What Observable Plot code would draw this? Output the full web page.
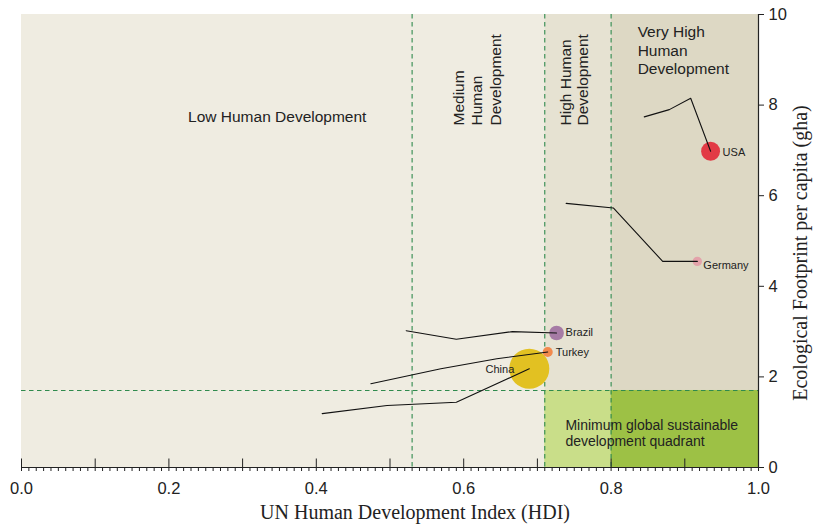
<!DOCTYPE html>
<html>
<head>
<meta charset="utf-8">
<script src="https://cdn.jsdelivr.net/npm/d3@7"></script>
<script src="https://cdn.jsdelivr.net/npm/@observablehq/plot@0.6"></script>
<style>
  body { margin: 0; background: #fff; }
  #chart svg { display: block; }
</style>
</head>
<body>
<div id="chart"></div>
<script>
// ---------- data ----------
const countries  = ["USA", "Germany", "Brazil", "Turkey", "China"];
const hdi        = [0.935, 0.917, 0.726, 0.714, 0.689];
const footprint  = [6.98, 4.55, 2.97, 2.55, 2.18];
const population = [300, 72, 180, 85, 1340];

const usaTrailHdi     = [0.845, 0.879, 0.908, 0.935];
const usaTrailFp      = [7.74, 7.90, 8.15, 6.98];
const germanyTrailHdi = [0.739, 0.803, 0.870, 0.917];
const germanyTrailFp  = [5.83, 5.73, 4.55, 4.55];
const brazilTrailHdi  = [0.522, 0.590, 0.666, 0.726];
const brazilTrailFp   = [3.02, 2.83, 3.00, 2.97];
const turkeyTrailHdi  = [0.474, 0.569, 0.645, 0.714];
const turkeyTrailFp   = [1.85, 2.18, 2.40, 2.55];
const chinaTrailHdi   = [0.408, 0.496, 0.590, 0.689];
const chinaTrailFp    = [1.19, 1.37, 1.44, 2.18];

const hdiThresholds = [0.53, 0.71, 0.80];
const biocapacity   = 1.7;
const xTicks = [0, 0.1, 0.2, 0.3, 0.4, 0.5, 0.6, 0.7, 0.8, 0.9, 1.0];
const xTickLabels = [0.0, 0.2, 0.4, 0.6, 0.8, 1.0];
const yTicks = [0, 2, 4, 6, 8, 10];

const regionNames  = ["Low Human Development", "Medium\nHuman\nDevelopment", "High Human\nDevelopment", "Very High\nHuman\nDevelopment"];
const quadrantName = "Minimum global sustainable\ndevelopment quadrant";
const xTitle = "UN Human Development Index (HDI)";
const yTitle = "Ecological Footprint per capita (gha)";

// ---------- styles / layout ----------
const countryColors = {USA: "#e23a45", Germany: "#e3a2aa", Brazil: "#a67ba5", Turkey: "#f28a4d", China: "#e2c122"};
const labelOffsets  = {USA: [12, 1, "start"], Germany: [6, 4, "start"], Brazil: [9, 0, "start"], Turkey: [8, 0, "start"], China: [-15, 1, "end"]};
const sans   = "'Liberation Sans', Arial, Helvetica, sans-serif";
const narrow = "'Liberation Sans Narrow', 'Arial Narrow', 'Liberation Sans', sans-serif";
const serif  = "'Liberation Serif', 'Times New Roman', serif";
const textColor = "#222";
const dashColor = "#2f8a4d";

// upward tick symbol (length = radius)
const tickUp = {draw(context, size) { const l = Math.sqrt(size / Math.PI); context.moveTo(0, 0); context.lineTo(0, -l); }};

const points = countries.map((c, i) => ({country: c, hdi: hdi[i], fp: footprint[i], pop: population[i]}));
const trailSets = {USA: [usaTrailHdi, usaTrailFp], Germany: [germanyTrailHdi, germanyTrailFp], Brazil: [brazilTrailHdi, brazilTrailFp], Turkey: [turkeyTrailHdi, turkeyTrailFp], China: [chinaTrailHdi, chinaTrailFp]};
const trails = countries.flatMap(c => trailSets[c][0].map((h, i) => ({country: c, hdi: h, fp: trailSets[c][1][i]})));

const bands = [
  {x1: 0, x2: hdiThresholds[1], fill: "#efece1"},
  {x1: hdiThresholds[1], x2: hdiThresholds[2], fill: "#e6e2d2"},
  {x1: hdiThresholds[2], x2: 1, fill: "#ddd8c4"}
];
const quadrant = [
  {x1: hdiThresholds[1], x2: hdiThresholds[2], fill: "#c9de89"},
  {x1: hdiThresholds[2], x2: 1, fill: "#9dc145"}
];
const minorTicks = d3.range(0, 101).map(i => i / 100);

const labelMarks = countries.map(c => {
  const [dx, dy, anchor] = labelOffsets[c];
  return Plot.text(points.filter(d => d.country === c), {
    x: "hdi", y: "fp", text: "country", dx, dy, textAnchor: anchor,
    fontSize: 11, fill: textColor, fontFamily: sans
  });
});

const chart = Plot.plot({
  width: 817,
  height: 526,
  marginLeft: 21,
  marginRight: 59,
  marginTop: 14,
  marginBottom: 59,
  x: {domain: [0, 1]},
  y: {domain: [0, 10]},
  r: {domain: [0, 1340], range: [0, 20]},
  style: {fontFamily: sans, background: "#fff", color: textColor},
  marks: [
    Plot.rect(bands, {x1: "x1", x2: "x2", y1: 0, y2: 10, fill: d => d.fill}),
    Plot.rect(quadrant, {x1: "x1", x2: "x2", y1: 0, y2: biocapacity, fill: d => d.fill}),
    Plot.ruleX(hdiThresholds, {stroke: dashColor, strokeDasharray: "4.5,3.5", strokeWidth: 1.1}),
    Plot.ruleY([biocapacity], {stroke: dashColor, strokeDasharray: "4.5,3.5", strokeWidth: 1.1}),
    Plot.axisX({ticks: minorTicks, tickSize: 4, tickFormat: () => "", label: null, stroke: textColor}),
    Plot.dot(xTicks, {x: d => d, y: () => 0, r: 9, symbol: tickUp, stroke: textColor, strokeWidth: 1, fill: "none"}),
    Plot.axisX({ticks: xTickLabels, tickSize: 0, tickPadding: 15, tickFormat: d3.format(".1f"), label: null, fontSize: 16.5, fontFamily: narrow, fill: textColor}),
    Plot.axisY({anchor: "right", ticks: yTicks, tickSize: 5, tickPadding: 5, label: null, fontSize: 16.5, fontFamily: narrow, fill: textColor, stroke: textColor}),
    Plot.ruleY([0], {stroke: textColor, strokeWidth: 1.2}),
    Plot.ruleX([1], {stroke: textColor, strokeWidth: 1.2}),
    Plot.dot(points, {x: "hdi", y: "fp", r: "pop", fill: d => countryColors[d.country], stroke: null}),
    Plot.line(trails, {x: "hdi", y: "fp", z: "country", stroke: "#111", strokeWidth: 1.1}),
    ...labelMarks,
    Plot.text([regionNames[0]], {x: 0.347, y: 7.74, text: d => d, fontSize: 15.5, fill: textColor}),
    Plot.text([regionNames[1]], {x: 0.617, y: 7.55, text: d => d, rotate: -90, textAnchor: "start", lineAnchor: "middle", lineHeight: 1.19, fontSize: 15.5, fill: textColor}),
    Plot.text([regionNames[2]], {x: 0.75, y: 7.55, text: d => d, rotate: -90, textAnchor: "start", lineAnchor: "middle", lineHeight: 1.12, fontSize: 15.5, fill: textColor}),
    Plot.text([regionNames[3]], {x: 0.836, y: 9.8, text: d => d, textAnchor: "start", lineAnchor: "top", lineHeight: 1.21, fontSize: 15.5, fill: textColor}),
    Plot.text([quadrantName], {x: 0.738, y: 1.09, text: d => d, textAnchor: "start", lineAnchor: "top", lineHeight: 1.16, fontSize: 14, fill: textColor}),
    Plot.text([xTitle], {frameAnchor: "bottom", text: d => d, dx: 25, dy: 45, textAnchor: "middle", lineAnchor: "middle", fontFamily: serif, fontSize: 20, fill: textColor}),
    Plot.text([yTitle], {frameAnchor: "right", text: d => d, dx: 42, dy: 12, rotate: -90, textAnchor: "middle", lineAnchor: "middle", fontFamily: serif, fontSize: 20, fill: textColor})
  ]
});
document.getElementById("chart").appendChild(chart);
</script>
</body>
</html>
